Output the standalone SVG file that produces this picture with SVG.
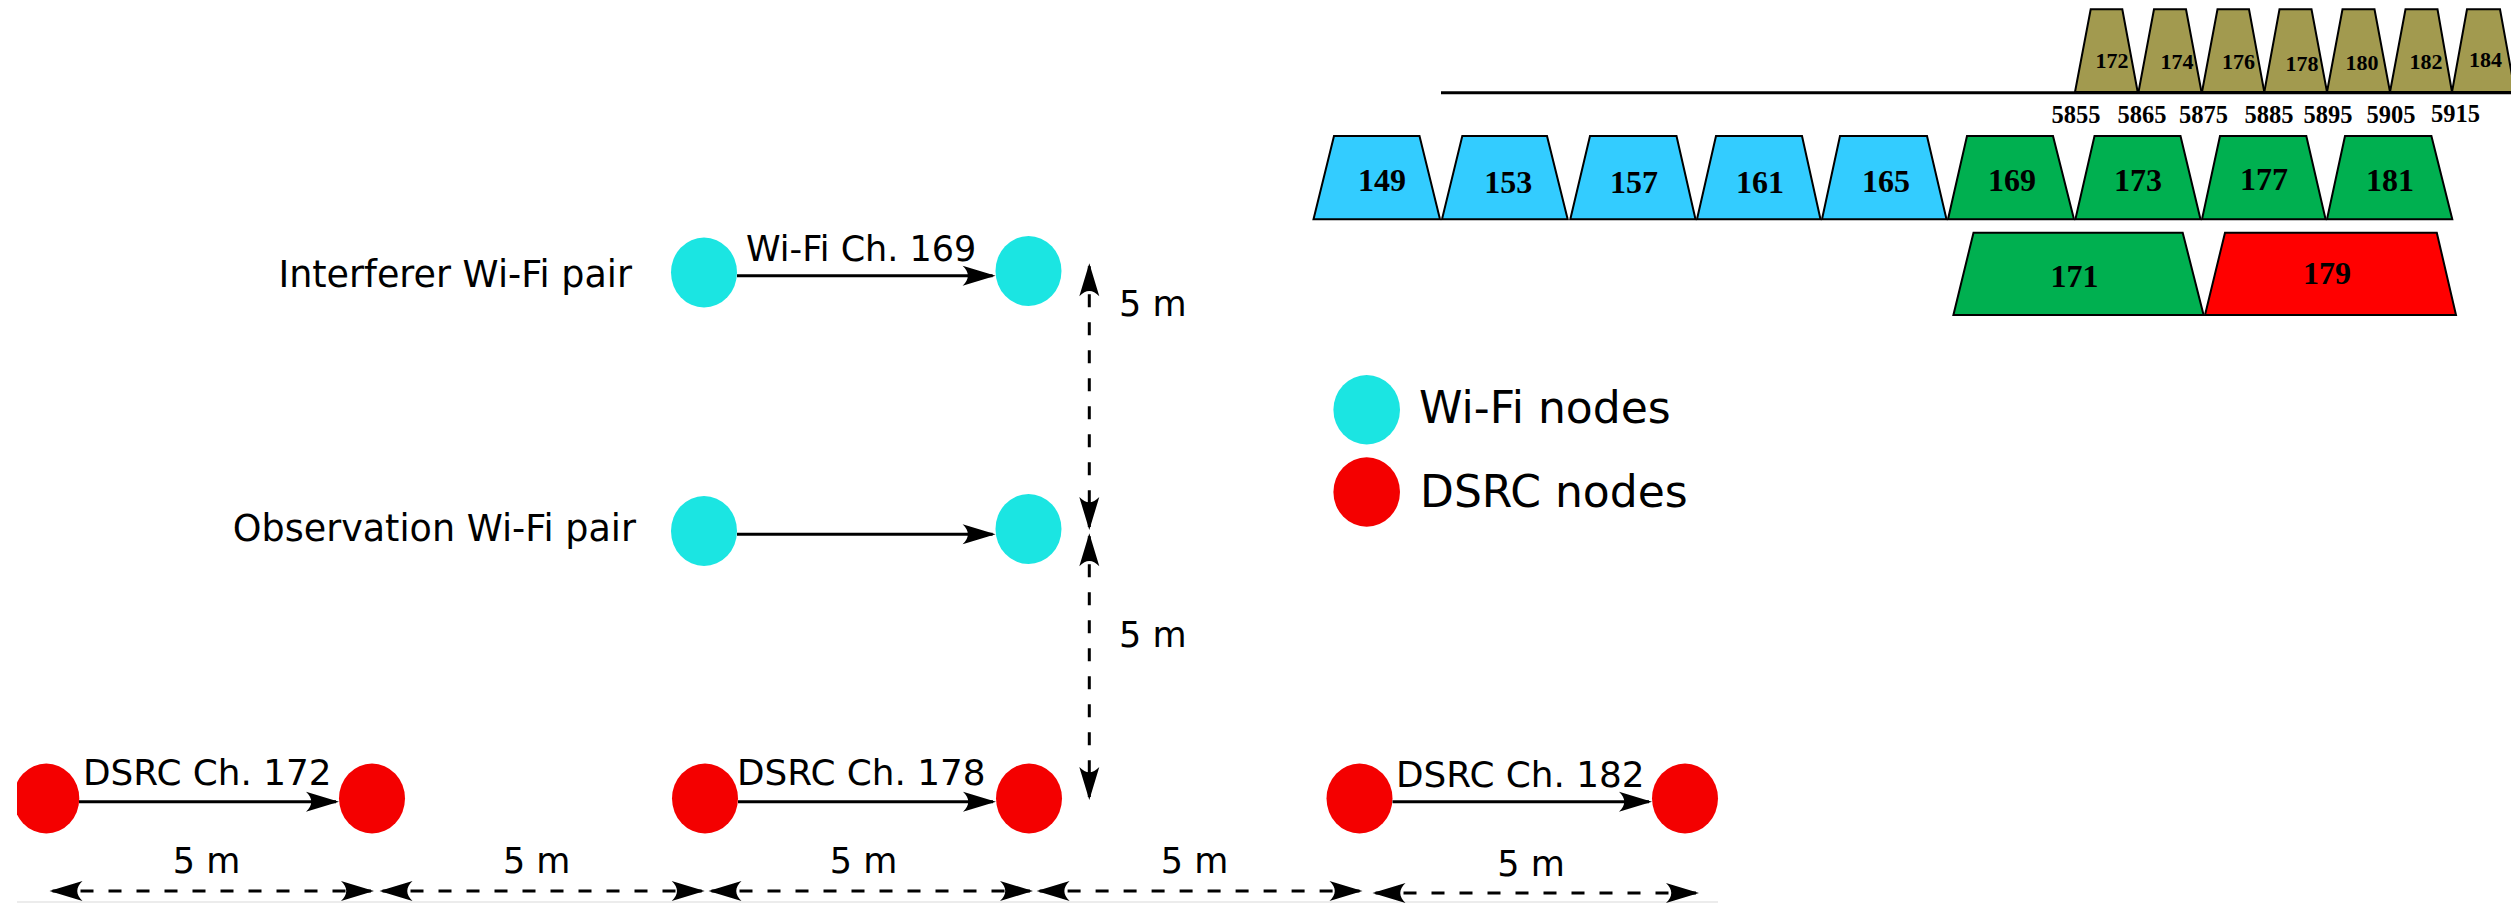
<svg xmlns="http://www.w3.org/2000/svg" width="2511" height="904" viewBox="0 0 2511 904">
<style>
.lbl{font-family:"DejaVu Sans",sans-serif;font-size:35px;fill:#000}
.big{font-size:36.5px}
.ds{font-size:35.8px}
.leg{font-family:"DejaVu Sans",sans-serif;font-size:44px;fill:#000}
.ch{font-family:"Liberation Serif","Times New Roman",serif;font-weight:bold;fill:#000;text-anchor:middle}
.ch30{font-size:32px}
.ch21{font-size:22px}
.fq{font-size:24.5px}
.wifi{fill:#1be5e2}
.dsrc{fill:#f40000}
.trap{stroke:#000;stroke-width:2;stroke-linejoin:miter}
.blue{fill:#33ccff}
.green{fill:#00b050}
.red{fill:#ff0000}
.olive{fill:#a29a4f}
.arrow{stroke:#000;stroke-width:3;fill:none}
.dim{stroke:#000;stroke-width:3;fill:none;stroke-dasharray:13 15}
</style>
<defs>
<marker id="ah" markerUnits="userSpaceOnUse" markerWidth="40" markerHeight="26" viewBox="-35 -13 40 26" refX="0" refY="0" orient="auto-start-reverse">
<path d="M3,0 L-30,-10 C-23,-3 -23,3 -30,10 Z" fill="#000"/>
</marker>
<clipPath id="clipL"><rect x="17" y="0" width="2494" height="904"/></clipPath>
</defs>
<rect x="0" y="0" width="2511" height="904" fill="#fff"/>
<line x1="17" y1="902" x2="1718" y2="902" stroke="#ececec" stroke-width="2"/>

<!-- Channel chart -->
<g id="chart">
<line x1="1441" y1="92.7" x2="2511" y2="92.7" stroke="#000" stroke-width="3"/>
<g id="dsrc-channels">
<polygon class="trap olive" points="2075,92 2090.7,9.3 2122.3,9.3 2137.7,92"/>
<polygon class="trap olive" points="2138.5,92 2154,9.3 2186,9.3 2201.5,92"/>
<polygon class="trap olive" points="2202,92 2217.5,9.3 2249,9.3 2264.3,92"/>
<polygon class="trap olive" points="2264.3,92 2279.5,9.3 2311.5,9.3 2327,92"/>
<polygon class="trap olive" points="2327,92 2342.5,9.3 2374.5,9.3 2390,92"/>
<polygon class="trap olive" points="2390,92 2405.5,9.3 2437.5,9.3 2452,92"/>
<polygon class="trap olive" points="2452,92 2467,9.3 2500,9.3 2515,92"/>
<text class="ch ch21" x="2112" y="68.3">172</text>
<text class="ch ch21" x="2177" y="69">174</text>
<text class="ch ch21" x="2238.6" y="68.5">176</text>
<text class="ch ch21" x="2302" y="70.5">178</text>
<text class="ch ch21" x="2362" y="70">180</text>
<text class="ch ch21" x="2426" y="69">182</text>
<text class="ch ch21" x="2485.6" y="67">184</text>
</g>
<g id="freqs">
<text class="ch fq" x="2076" y="123.3">5855</text>
<text class="ch fq" x="2142" y="123.3">5865</text>
<text class="ch fq" x="2203.5" y="123.3">5875</text>
<text class="ch fq" x="2269" y="123.3">5885</text>
<text class="ch fq" x="2328" y="123">5895</text>
<text class="ch fq" x="2391" y="123">5905</text>
<text class="ch fq" x="2455.6" y="122">5915</text>
</g>
<g id="wifi20">
<polygon class="trap blue" points="1313.5,219.3 1334,136 1419.5,136 1440,219.3"/>
<polygon class="trap blue" points="1442,219.3 1462.3,136 1547,136 1567.7,219.3"/>
<polygon class="trap blue" points="1570.3,219.3 1590,136 1676.5,136 1695.5,219.3"/>
<polygon class="trap blue" points="1697,219.3 1716,136 1802,136 1820.5,219.3"/>
<polygon class="trap blue" points="1822,219.3 1840,136 1927,136 1946.5,219.3"/>
<polygon class="trap green" points="1948,219.3 1967,136 2053,136 2074,219.3"/>
<polygon class="trap green" points="2075.4,219.3 2094.5,136 2180.5,136 2200.5,219.3"/>
<polygon class="trap green" points="2202,219.3 2220,136 2306.3,136 2325.6,219.3"/>
<polygon class="trap green" points="2327,219.3 2345,136 2431.4,136 2452.3,219.3"/>
<text class="ch ch30" x="1382" y="191">149</text>
<text class="ch ch30" x="1508.3" y="193">153</text>
<text class="ch ch30" x="1634" y="192.5">157</text>
<text class="ch ch30" x="1760" y="192.5">161</text>
<text class="ch ch30" x="1886" y="191.5">165</text>
<text class="ch ch30" x="2012" y="190.5">169</text>
<text class="ch ch30" x="2138" y="190.5">173</text>
<text class="ch ch30" x="2264" y="189.5">177</text>
<text class="ch ch30" x="2390" y="191">181</text>
</g>
<g id="wifi40">
<polygon class="trap green" points="1953.4,315 1973.5,232.7 2182.7,232.7 2203.6,315"/>
<polygon class="trap red" points="2205,315 2225,232.7 2436.8,232.7 2456,315"/>
<text class="ch ch30" x="2074.6" y="287">171</text>
<text class="ch ch30" x="2327" y="284">179</text>
</g>
</g>

<!-- Legend -->
<g id="legend">
<ellipse class="wifi" cx="1366.7" cy="409.7" rx="33.3" ry="34.7"/>
<ellipse class="dsrc" cx="1366.7" cy="492" rx="33.3" ry="34.7"/>
<text class="leg" x="1419" y="423.3">Wi-Fi nodes</text>
<text class="leg" x="1420" y="506.7">DSRC nodes</text>
</g>

<!-- Nodes -->
<g id="wifi-int-tx"><ellipse class="wifi" cx="704" cy="272.5" rx="33" ry="35"/></g>
<g id="wifi-int-rx"><ellipse class="wifi" cx="1028.5" cy="271" rx="33" ry="35"/></g>
<g id="wifi-obs-tx"><ellipse class="wifi" cx="704" cy="531" rx="33" ry="35"/></g>
<g id="wifi-obs-rx"><ellipse class="wifi" cx="1028.5" cy="529" rx="33" ry="35"/></g>
<g id="dsrc1-tx"><ellipse class="dsrc" cx="46.3" cy="798.5" rx="33" ry="35" clip-path="url(#clipL)"/></g>
<g id="dsrc1-rx"><ellipse class="dsrc" cx="372" cy="798.5" rx="33" ry="35"/></g>
<g id="dsrc2-tx"><ellipse class="dsrc" cx="705" cy="798.5" rx="33" ry="35"/></g>
<g id="dsrc2-rx"><ellipse class="dsrc" cx="1029" cy="798.5" rx="33" ry="35"/></g>
<g id="dsrc3-tx"><ellipse class="dsrc" cx="1359.5" cy="798.5" rx="33" ry="35"/></g>
<g id="dsrc3-rx"><ellipse class="dsrc" cx="1685" cy="798.5" rx="33" ry="35"/></g>

<!-- Labels -->
<g id="labels">
<text class="lbl big" x="632" y="287" text-anchor="end">Interferer Wi-Fi pair</text>
<text class="lbl big" x="636" y="541" text-anchor="end">Observation Wi-Fi pair</text>
<text class="lbl" x="746" y="260.7">Wi-Fi Ch. 169</text>
<text class="lbl ds" x="83" y="785">DSRC Ch. 172</text>
<text class="lbl ds" x="737" y="785">DSRC Ch. 178</text>
<text class="lbl ds" x="1396" y="787">DSRC Ch. 182</text>
<text class="lbl" x="1119" y="316">5 m</text>
<text class="lbl" x="1119" y="647">5 m</text>
<text class="lbl" x="206.6" y="873" text-anchor="middle">5 m</text>
<text class="lbl" x="536.7" y="873" text-anchor="middle">5 m</text>
<text class="lbl" x="863.6" y="873" text-anchor="middle">5 m</text>
<text class="lbl" x="1194.5" y="873" text-anchor="middle">5 m</text>
<text class="lbl" x="1531" y="875.7" text-anchor="middle">5 m</text>
</g>

<!-- Connectors -->
<g id="connectors">
<line class="arrow" x1="737" y1="275.7" x2="992.6" y2="275.7" marker-end="url(#ah)"/>
<line class="arrow" x1="737" y1="534.3" x2="992.6" y2="534.3" marker-end="url(#ah)"/>
<line class="arrow" x1="79" y1="801.7" x2="336" y2="801.7" marker-end="url(#ah)"/>
<line class="arrow" x1="738" y1="801.7" x2="993" y2="801.7" marker-end="url(#ah)"/>
<line class="arrow" x1="1392.5" y1="801.7" x2="1649" y2="801.7" marker-end="url(#ah)"/>
<line class="dim" x1="1089.3" y1="266.3" x2="1089.3" y2="527" marker-start="url(#ah)" marker-end="url(#ah)"/>
<line class="dim" x1="1089.3" y1="536.3" x2="1089.3" y2="797" marker-start="url(#ah)" marker-end="url(#ah)"/>
<line class="dim" x1="52.5" y1="891" x2="371" y2="891" marker-start="url(#ah)" marker-end="url(#ah)"/>
<line class="dim" x1="382.5" y1="891" x2="701.7" y2="891" marker-start="url(#ah)" marker-end="url(#ah)"/>
<line class="dim" x1="711.5" y1="891" x2="1030" y2="891" marker-start="url(#ah)" marker-end="url(#ah)"/>
<line class="dim" x1="1039.6" y1="891" x2="1359.5" y2="891" marker-start="url(#ah)" marker-end="url(#ah)"/>
<line class="dim" x1="1375.5" y1="893" x2="1696" y2="893" marker-start="url(#ah)" marker-end="url(#ah)"/>
</g>
</svg>
